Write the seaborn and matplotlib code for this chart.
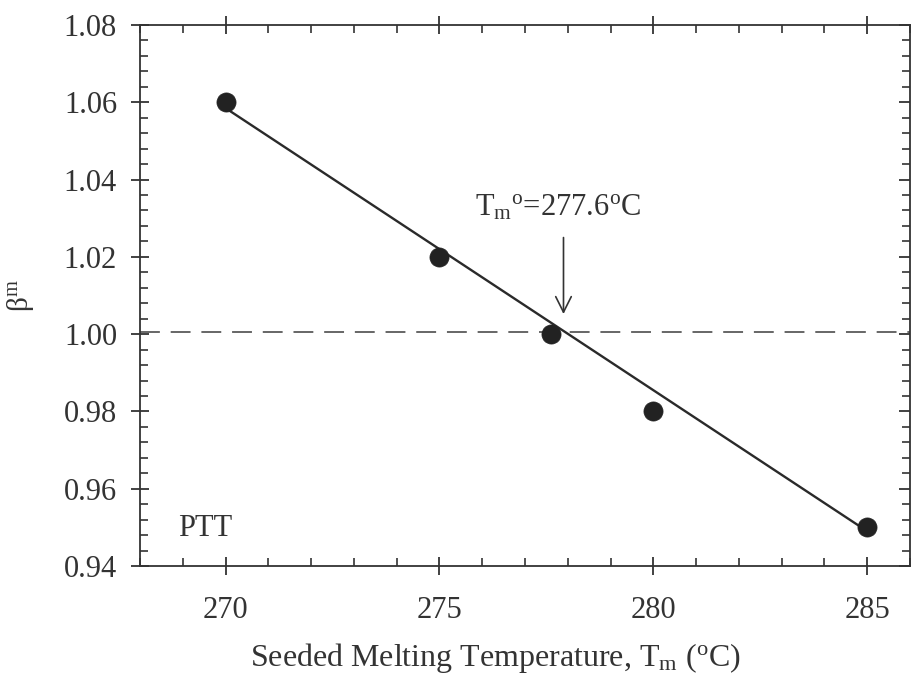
import matplotlib
matplotlib.use("Agg")
import matplotlib.pyplot as plt
import seaborn as sns
import pandas as pd
from matplotlib.ticker import MultipleLocator, FormatStrFormatter

# ---- data ----
temps = [270, 275, 277.6, 280, 285]
beta = [1.06, 1.02, 1.00, 0.98, 0.95]
fit_x = [270, 285]
fit_y = [1.0585, 0.9490]
ref_level = 1.0006
arrow_x = 277.9
annot_label = "T$_\\mathrm{m}$$^\\mathrm{o}$=277.6$^\\mathrm{o}$C"
sample_label = "PTT"
xticks = [270, 275, 280, 285]
yticks = [0.94, 0.96, 0.98, 1.00, 1.02, 1.04, 1.06, 1.08]

sns.set_theme(style="ticks")
plt.rcParams["font.family"] = ["Liberation Serif", "DejaVu Serif"]
plt.rcParams["mathtext.fontset"] = "custom"
plt.rcParams["mathtext.rm"] = "Liberation Serif"
plt.rcParams["mathtext.it"] = "Liberation Serif:italic"

df = pd.DataFrame({"T": temps, "beta": beta})
fit = pd.DataFrame({"T": fit_x, "beta": fit_y})

fig = plt.figure(figsize=(9.12, 6.76), dpi=100)
ax = fig.add_axes([0.1535, 0.1627, 0.9978 - 0.1535, 0.963 - 0.1627])

ax.axhline(ref_level, color="#5a5a5a", lw=1.3, ls=(0, (11, 6)), zorder=1)
sns.lineplot(data=fit, x="T", y="beta", ax=ax, color="#2a2a2a", lw=1.7, zorder=2)
sns.scatterplot(data=df, x="T", y="beta", ax=ax, color="#222222", s=190,
                edgecolor="#222222", linewidth=0.5, zorder=3)

ax.set_xlim(268, 286)
ax.set_ylim(0.94, 1.08)
ax.set_xticks(xticks)
ax.set_yticks(yticks)
ax.xaxis.set_minor_locator(MultipleLocator(1))
ax.yaxis.set_minor_locator(MultipleLocator(0.004))
ax.yaxis.set_major_formatter(FormatStrFormatter("%.2f"))

for s in ax.spines.values():
    s.set_linewidth(1.3)
    s.set_color("#333333")

ax.tick_params(which="major", direction="inout", length=13, width=1.3,
               color="#333333", labelsize=22, labelcolor="#333333",
               top=True, right=True, pad=10)
ax.tick_params(axis="x", which="major", pad=15)
ax.tick_params(which="minor", direction="in", length=6, width=1.2,
               color="#333333", top=True, right=True)

# right-side major ticks point inward only
for t in ax.yaxis.get_major_ticks():
    t.tick2line.set_markersize(8)
    t.tick2line.set_marker(0)  # TICKLEFT

ax.set_xlabel("Seeded Melting Temperature, T$_\\mathrm{m}$ ($^\\mathrm{o}$C)",
              fontsize=23, color="#333333", va="top")
ax.xaxis.set_label_coords(0.461, -0.138)
ax.set_ylabel("β$^\\mathrm{m}$", fontsize=21, color="#333333", labelpad=20)

ax.text(268.9, 0.9498, sample_label, fontsize=22, color="#333333",
        ha="left", va="center")
ax.text(277.77, 1.0308, annot_label, fontsize=22, color="#333333",
        ha="center", va="baseline")
ax.annotate("", xy=(arrow_x, 1.0052), xytext=(arrow_x, 1.0250),
            arrowprops=dict(arrowstyle="->", lw=1.2, color="#333333",
                            mutation_scale=28, shrinkA=0, shrinkB=0))

fig.savefig("out.png", dpi=100)
